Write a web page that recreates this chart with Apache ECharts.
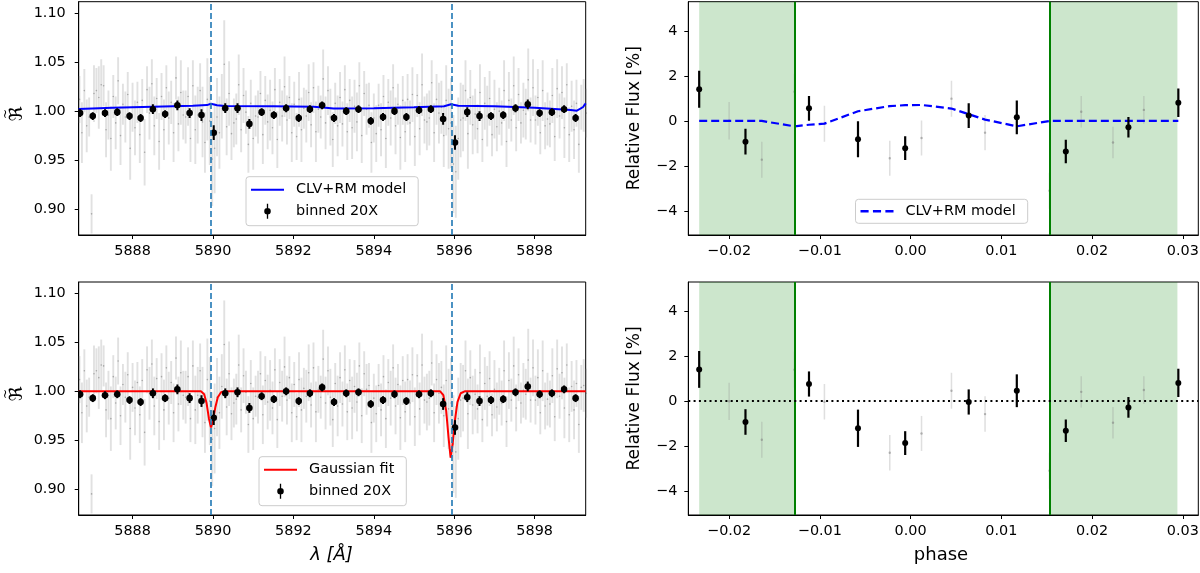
<!DOCTYPE html>
<html>
<head>
<meta charset="utf-8">
<script src="https://cdn.jsdelivr.net/npm/echarts@6/dist/echarts.min.js"></script>
<style>
html, body { margin: 0; padding: 0; background: #fff; }
#chart { width: 1200px; height: 573px; }
</style>
</head>
<body>
<div id="chart"></div>
<script>
// ---- raw spectrum (grey), sampling grid of the spectrograph ----
var rawLambdaStart = 5886.68;
var rawLambdaStep = 0.06;
var rawFlux = [
  1.012, 0.978, 1.021, 0.985, 0.994,  0.895, 1.018, 1.021, 1.014, 1.027,
  1.026, 0.981, 0.996, 0.972, 1.015,  0.988, 1.031, 0.975, 1.007, 0.994,
  1.017, 0.962, 1.004, 0.983, 1.009,  0.976, 1.011, 0.958, 1.022, 0.998,
  1.028, 0.985, 1.013, 0.969, 1.015,  0.981, 1.024, 0.993, 1.009, 0.978,
  1.034, 0.987, 1.019, 0.996, 0.994,  1.015, 0.972, 1.026, 0.981, 0.996,
  1.021, 0.989, 0.968, 1.012, 0.990,  0.951, 0.962, 0.994, 0.978, 1.005,
  1.048, 0.984, 1.018, 0.977, 0.988,  0.992, 1.027, 0.981, 1.016, 0.999,
  0.966, 1.008, 0.972, 0.995, 0.994,  1.018, 0.976, 1.011, 0.989, 1.001,
  0.983, 1.022, 0.971, 1.009, 0.995,  1.025, 0.991, 1.014, 0.978, 1.007,
  0.974, 1.012, 0.981, 1.003, 0.995,  1.019, 0.986, 1.024, 0.979, 1.002,
  0.994, 1.033, 0.988, 1.021, 0.994,  0.971, 1.008, 0.985, 1.014, 0.987,
  1.022, 0.979, 1.011, 0.983, 1.005,  0.989, 1.026, 0.975, 1.018, 1.002,
  1.006, 0.968, 0.993, 0.977, 1.006,  0.981, 1.015, 0.972, 1.009, 0.993,
  1.024, 0.985, 1.007, 0.973, 1.011,  0.979, 1.012, 0.988, 1.017, 0.974,
  1.016, 0.982, 1.027, 0.991, 0.989,  0.993, 1.029, 0.978, 1.012, 0.998,
  1.004, 0.975, 1.011, 0.982, 0.988,  0.946, 0.938, 0.972, 0.991, 0.993,
  1.021, 0.977, 1.014, 0.986, 0.997,  0.982, 1.019, 0.971, 1.008, 0.995,
  1.013, 0.976, 1.002, 0.984, 1.000,  0.988, 1.021, 0.969, 1.011, 0.991,
  1.026, 0.983, 1.017, 0.988, 1.001,  0.997, 1.032, 0.991, 1.024, 0.991,
  1.014, 0.978, 1.021, 0.985, 0.992,  0.987, 1.016, 0.974, 1.023, 0.995,
  1.019, 0.983, 1.027, 0.976, 1.005,  0.981, 1.008, 0.966, 1.004, 1.006,
  0.998
];
var rawErr = [
  0.024, 0.031, 0.022, 0.027, 0.020,  0.020, 0.029, 0.023, 0.032, 0.026,
  0.021, 0.028, 0.025, 0.033, 0.022,  0.027, 0.024, 0.030, 0.021, 0.026,
  0.023, 0.032, 0.025, 0.028, 0.021,  0.029, 0.022, 0.034, 0.024, 0.027,
  0.025, 0.030, 0.021, 0.029, 0.024,  0.031, 0.023, 0.027, 0.022, 0.030,
  0.022, 0.028, 0.033, 0.025, 0.027,  0.030, 0.024, 0.026, 0.035, 0.029,
  0.028, 0.036, 0.031, 0.042, 0.045,  0.048, 0.046, 0.040, 0.037, 0.033,
  0.045, 0.029, 0.033, 0.027, 0.025,  0.026, 0.031, 0.023, 0.028, 0.022,
  0.029, 0.024, 0.032, 0.021, 0.027,  0.023, 0.030, 0.025, 0.028, 0.031,
  0.027, 0.022, 0.029, 0.024, 0.026,  0.031, 0.025, 0.022, 0.030, 0.023,
  0.024, 0.028, 0.033, 0.021, 0.027,  0.029, 0.023, 0.026, 0.031, 0.024,
  0.022, 0.030, 0.027, 0.025, 0.029,  0.028, 0.021, 0.031, 0.026, 0.023,
  0.025, 0.029, 0.022, 0.032, 0.027,  0.030, 0.024, 0.028, 0.023, 0.026,
  0.023, 0.031, 0.025, 0.029, 0.022,  0.027, 0.022, 0.030, 0.024, 0.028,
  0.024, 0.029, 0.021, 0.033, 0.025,  0.031, 0.026, 0.023, 0.028, 0.030,
  0.022, 0.027, 0.032, 0.024, 0.029,  0.028, 0.023, 0.030, 0.026, 0.031,
  0.027, 0.032, 0.036, 0.041, 0.046,  0.050, 0.047, 0.042, 0.038, 0.034,
  0.031, 0.036, 0.028, 0.030, 0.026,  0.025, 0.029, 0.023, 0.027, 0.031,
  0.028, 0.022, 0.030, 0.025, 0.024,  0.023, 0.031, 0.026, 0.029, 0.022,
  0.030, 0.024, 0.027, 0.021, 0.028,  0.026, 0.032, 0.023, 0.029, 0.025,
  0.029, 0.022, 0.031, 0.024, 0.027,  0.024, 0.028, 0.025, 0.030, 0.023,
  0.027, 0.031, 0.022, 0.028, 0.026,  0.030, 0.024, 0.029, 0.023, 0.027,
  0.025
];

// ---- binned 20X ----
var binLambda = [
  5886.695, 5887.010, 5887.314, 5887.619, 5887.924, 5888.200, 5888.505, 5888.810,
  5889.114, 5889.419, 5889.714, 5890.019, 5890.305, 5890.610, 5890.905, 5891.210,
  5891.514, 5891.819, 5892.133, 5892.410, 5892.714, 5893.010, 5893.314, 5893.619,
  5893.924, 5894.229, 5894.514, 5894.810, 5895.124, 5895.419, 5895.724, 5896.019,
  5896.324, 5896.629, 5896.914, 5897.219, 5897.524, 5897.829, 5898.124, 5898.429,
  5898.733, 5899.019
];
var binFluxTop = [
  0.998, 0.995, 0.998, 0.999, 0.995, 0.993, 1.002, 0.997, 1.006, 0.998, 0.996,
  0.978, 1.003, 1.003, 0.987, 0.999, 0.996, 1.003, 0.993, 1.002, 1.006, 0.993,
  1.000, 1.002, 0.990, 0.994, 1.000, 0.994, 1.001, 1.002, 0.992, 0.968, 0.999,
  0.995, 0.995, 0.996, 1.003, 1.007, 0.998, 0.999, 1.002, 0.993
];
var binFluxBottom = [
  0.997, 0.993, 0.996, 0.997, 0.991, 0.989, 0.998, 0.993, 1.002, 0.993, 0.990,
  0.973, 0.998, 0.999, 0.983, 0.995, 0.992, 1.000, 0.990, 0.998, 1.004, 0.989,
  0.998, 0.999, 0.987, 0.991, 0.997, 0.990, 0.997, 0.998, 0.987, 0.963, 0.994,
  0.990, 0.991, 0.992, 0.999, 1.005, 0.997, 0.998, 1.002, 0.993
];
var binErr = [
  0.004, 0.004, 0.004, 0.004, 0.004, 0.004, 0.005, 0.004, 0.005, 0.005, 0.006,
  0.0075, 0.005, 0.005, 0.005, 0.004, 0.004, 0.004, 0.004, 0.004, 0.004, 0.004,
  0.004, 0.004, 0.004, 0.004, 0.004, 0.004, 0.004, 0.004, 0.006, 0.0075, 0.005,
  0.005, 0.004, 0.004, 0.004, 0.005, 0.004, 0.004, 0.004, 0.004
];

// Na D lines
var naLines = [5889.94, 5895.94];

// CLV+RM model (top left)
var clvLambda = [5886.66, 5887.5, 5888.5, 5889.5, 5889.85, 5889.95, 5890.1, 5890.3, 5891.5,
  5892.5, 5892.8, 5893.0, 5894.0, 5895.0, 5895.75, 5895.92, 5896.1, 5897.0, 5898.0,
  5898.9, 5899.05, 5899.2, 5899.27];
var clvFlux = [1.0022, 1.0035, 1.0045, 1.0055, 1.0062, 1.0075, 1.0060, 1.0052, 1.0050,
  1.0045, 1.0035, 1.0027, 1.0030, 1.0040, 1.0050, 1.0070, 1.0055, 1.0050, 1.0035,
  1.0012, 1.0005, 1.0040, 1.0080];

// Gaussian fit (bottom left)
var gaussLambda = [5886.66, 5889.70, 5889.78, 5889.84, 5889.90, 5889.95, 5890.00, 5890.06,
  5890.12, 5890.20, 5890.30, 5895.65, 5895.73, 5895.80, 5895.86, 5895.91, 5895.96,
  5896.02, 5896.08, 5896.16, 5896.26, 5899.27];
var gaussFlux = [1.000, 1.000, 0.997, 0.988, 0.972, 0.963, 0.970, 0.984,
  0.994, 0.999, 1.000, 1.000, 0.996, 0.980, 0.952, 0.932, 0.946,
  0.971, 0.989, 0.998, 1.000, 1.000];

// ---- relative flux vs phase ----
var phaseMain = [-0.0233, -0.0182, -0.0112, -0.0058, -0.0006, 0.0064, 0.0117, 0.0171, 0.0240, 0.0295];
var relFluxTop = [1.41, -0.92, 0.56, -0.81, -1.21, 0.24, 0.16, -1.36, -0.28, 0.81];
var relErrTop = [0.82, 0.57, 0.55, 0.80, 0.53, 0.55, 0.75, 0.52, 0.46, 0.63];
var relFluxBottom = [1.41, -0.93, 0.76, -1.21, -1.87, -0.04, 0.46, -1.32, -0.28, 0.81];
var relErrBottom = [0.82, 0.57, 0.56, 0.83, 0.53, 0.56, 0.73, 0.50, 0.46, 0.63];

var phaseFaint = [-0.0200, -0.0164, -0.0128, -0.0095, -0.0023, 0.0012, 0.0045, 0.0082, 0.0153, 0.0188, 0.0223, 0.0257];
var faintFluxTop = [0.01, -1.72, 1.3, -0.12, -1.66, -0.76, 0.99, -0.52, -3.1, 0.41, -0.96, 0.49];
var faintErrTop = [0.83, 0.80, 0.80, 0.80, 0.78, 0.78, 0.80, 0.78, 0.80, 0.70, 0.70, 0.62];
var faintFluxBottom = [-0.01, -1.72, 1.4, -0.03, -2.30, -1.44, 0.46, -0.58, -3.1, 0.41, -0.96, 0.49];
var faintErrBottom = [0.83, 0.80, 0.80, 0.79, 0.79, 0.78, 0.80, 0.79, 0.80, 0.70, 0.70, 0.62];

var modelPhase = [-0.0233, -0.0200, -0.0182, -0.0164, -0.0128, -0.0112, -0.0095, -0.0058, -0.0023,
  -0.0006, 0.0012, 0.0045, 0.0064, 0.0082, 0.0117, 0.0153, 0.0171, 0.0188, 0.0223, 0.0240,
  0.0257, 0.0295];
var modelFlux = [0, 0, 0, 0, -0.24, -0.17, -0.12, 0.43, 0.66, 0.70, 0.71, 0.55, 0.30, 0.06,
  -0.24, 0, 0, 0, 0, 0, 0, 0];

var outOfTransit = [[-0.0233, -0.0128], [0.0153, 0.0294]];
var contactPhase = [-0.0128, 0.0153];

// ticks
var waveTicks = [5888, 5890, 5892, 5894, 5896, 5898];
var fluxTicks = [0.90, 0.95, 1.00, 1.05, 1.10];
var phaseTicks = [-0.02, -0.01, 0.00, 0.01, 0.02, 0.03];
var relTicks = [-4, -2, 0, 2, 4];

var FONT = "'DejaVu Sans', sans-serif";
var FS = 14.4;

function zip3(xs, ys, es) {
  var out = [];
  for (var i = 0; i < ys.length; i++) out.push([xs[i], ys[i], es[i]]);
  return out;
}
function zip2(xs, ys) {
  var out = [];
  for (var i = 0; i < ys.length; i++) out.push([xs[i], ys[i]]);
  return out;
}
var rawData = [];
for (var i = 0; i < rawFlux.length; i++) {
  rawData.push([rawLambdaStart + i * rawLambdaStep, rawFlux[i], rawErr[i]]);
}

// errorbar renderer: vertical bar + dot
function errorBar(barColor, barWidth, dotColor, r) {
  return function (params, api) {
    var x = api.value(0), y = api.value(1), e = api.value(2);
    var p = api.coord([x, y]);
    var hi = api.coord([x, y + e]);
    var lo = api.coord([x, y - e]);
    return {
      type: 'group',
      children: [
        { type: 'line', shape: { x1: p[0], y1: hi[1], x2: p[0], y2: lo[1] },
          style: { stroke: barColor, lineWidth: barWidth } },
        { type: 'circle', shape: { cx: p[0], cy: p[1], r: r },
          style: { fill: dotColor } }
      ]
    };
  };
}

function minusFmt(d) {
  return function (v) {
    var s = Math.abs(v).toFixed(d);
    return v < -1e-9 ? '\u2212' + s : s;
  };
}

function xAxisDef(idx, min, max, ticks, fmt) {
  return {
    type: 'value', gridIndex: idx, min: min, max: max,
    axisLine: { show: true, onZero: false, lineStyle: { color: '#000', width: 1 } },
    axisTick: { show: true, customValues: ticks, length: 4, lineStyle: { color: '#000' } },
    axisLabel: { customValues: ticks, formatter: fmt, color: '#000', fontFamily: FONT, fontSize: FS, margin: 9 },
    splitLine: { show: false }
  };
}
function yAxisDef(idx, min, max, ticks, fmt, margin) {
  return {
    type: 'value', gridIndex: idx, min: min, max: max,
    axisLine: { show: true, onZero: false, lineStyle: { color: '#000', width: 1 } },
    axisTick: { show: true, customValues: ticks, length: 4, lineStyle: { color: '#000' } },
    axisLabel: { customValues: ticks, formatter: fmt, color: '#000', fontFamily: FONT, fontSize: FS, margin: margin },
    splitLine: { show: false }
  };
}

// legend icons
var errIcon = 'path://M4.3,0 L5.7,0 L5.7,16 L4.3,16 Z M8.5,8 A3.5,3.5 0 1 1 1.5,8 A3.5,3.5 0 1 1 8.5,8 Z';
var solidIcon = 'path://M0,0 H33 V2 H0 Z';
var dashIcon = 'path://M0,0 H7.5 V2.2 H0 Z M11.5,0 H19 V2.2 H11.5 Z M23,0 H30.5 V2.2 H23 Z';

var legendBase = {
  orient: 'vertical', itemWidth: 33, itemHeight: 15, itemGap: 7,
  backgroundColor: 'rgba(255,255,255,0.8)', borderColor: '#cccccc', borderWidth: 1, borderRadius: 3,
  textStyle: { fontFamily: FONT, fontSize: FS, color: '#000', padding: [0, 0, 0, 7] },
  selectedMode: false
};
function legendAt(left, top, pad, data) {
  var l = Object.assign({}, legendBase);
  l.left = left; l.top = top; l.padding = pad; l.data = data;
  l.formatter = function (name) { return name.replace(' (phase)', ''); };
  return l;
}

var grids = [
  { left: 78.7, top: 1.7, width: 507, height: 233.3 },
  { left: 78.7, top: 282, width: 507, height: 233 },
  { left: 688.3, top: 1.7, width: 510, height: 233.3 },
  { left: 688.3, top: 282, width: 510, height: 233 }
];
grids.forEach(function (g) {
  g.show = true; g.borderColor = '#000'; g.borderWidth = 1; g.backgroundColor = 'transparent';
  g.outerBoundsMode = 'none'; g.containLabel = false;
});

var waveFmt = function (v) { return v.toFixed(0); };
var fluxFmt = function (v) { return v.toFixed(2); };

var greenArea = {
  silent: true,
  itemStyle: { color: 'rgba(0,128,0,0.2)' },
  data: outOfTransit.map(function (r) { return [{ xAxis: r[0] }, { xAxis: r[1] }]; })
};
var greenLines = {
  silent: true, symbol: 'none', label: { show: false }, precision: 6,
  lineStyle: { color: '#008000', width: 2, type: 'solid' },
  data: contactPhase.map(function (p) { return { xAxis: p }; })
};
var naMarks = {
  silent: true, symbol: 'none', label: { show: false }, precision: 4,
  lineStyle: { color: '#1f77b4', width: 1.6, type: [6, 3] },
  data: naLines.map(function (w) { return { xAxis: w }; })
};

var rawBar = errorBar('rgba(130,130,130,0.24)', 1.9, 'rgba(80,80,80,0.4)', 0.8);

var option = {
  animation: false,
  backgroundColor: '#fff',
  grid: grids,
  xAxis: [
    xAxisDef(0, 5886.66, 5899.27, waveTicks, waveFmt),
    xAxisDef(1, 5886.66, 5899.27, waveTicks, waveFmt),
    xAxisDef(2, -0.0245, 0.0317, phaseTicks, minusFmt(2)),
    xAxisDef(3, -0.0245, 0.0317, phaseTicks, minusFmt(2))
  ],
  yAxis: [
    yAxisDef(0, 0.8734, 1.1119, fluxTicks, fluxFmt, 13),
    yAxisDef(1, 0.8734, 1.1119, fluxTicks, fluxFmt, 13),
    yAxisDef(2, -5.07, 5.30, relTicks, minusFmt(0), 11),
    yAxisDef(3, -5.07, 5.30, relTicks, minusFmt(0), 11)
  ],
  legend: [
    legendAt(246, 176.7, [6, 12, 7, 5], [{ name: 'CLV+RM model', icon: solidIcon },
      { name: 'binned 20X', icon: errIcon }]),
    legendAt(259, 456.7, [6, 12, 7, 5], [{ name: 'Gaussian fit', icon: solidIcon },
      { name: 'binned 20X', icon: errIcon }]),
    legendAt(855.5, 199.3, [5, 12, 5, 5], [{ name: 'CLV+RM model (phase)', icon: dashIcon }])
  ],
  series: [
    // top left
    { type: 'custom', name: 'raw top', xAxisIndex: 0, yAxisIndex: 0, z: 1, clip: true,
      renderItem: rawBar, data: rawData },
    { type: 'line', name: 'CLV+RM model', xAxisIndex: 0, yAxisIndex: 0, z: 3, symbol: 'none',
      lineStyle: { color: '#0000ff', width: 2 }, itemStyle: { color: '#0000ff' },
      data: zip2(clvLambda, clvFlux) },
    { type: 'custom', name: 'binned 20X', xAxisIndex: 0, yAxisIndex: 0, z: 4, clip: true,
      itemStyle: { color: '#000' },
      renderItem: errorBar('#000', 2, '#000', 3.3),
      data: zip3(binLambda, binFluxTop, binErr), markLine: naMarks },
    // bottom left
    { type: 'custom', name: 'raw bottom', xAxisIndex: 1, yAxisIndex: 1, z: 1, clip: true,
      renderItem: rawBar, data: rawData },
    { type: 'line', name: 'Gaussian fit', xAxisIndex: 1, yAxisIndex: 1, z: 3, symbol: 'none',
      lineStyle: { color: '#ff0000', width: 2 }, itemStyle: { color: '#ff0000' },
      data: zip2(gaussLambda, gaussFlux) },
    { type: 'custom', name: 'binned 20X', xAxisIndex: 1, yAxisIndex: 1, z: 4, clip: true,
      itemStyle: { color: '#000' },
      renderItem: errorBar('#000', 2, '#000', 3.3),
      data: zip3(binLambda, binFluxBottom, binErr), markLine: naMarks },
    // top right
    { type: 'custom', name: 'faint top', xAxisIndex: 2, yAxisIndex: 2, z: 1, clip: true,
      renderItem: errorBar('rgba(150,150,150,0.3)', 1.5, 'rgba(120,120,120,0.5)', 1.2),
      data: zip3(phaseFaint, faintFluxTop, faintErrTop), markArea: greenArea },
    { type: 'line', name: 'CLV+RM model (phase)', xAxisIndex: 2, yAxisIndex: 2, z: 3, symbol: 'none',
      lineStyle: { color: '#0000ff', width: 2.2, type: [8, 4] }, itemStyle: { color: '#0000ff' },
      data: zip2(modelPhase, modelFlux), markLine: greenLines },
    { type: 'custom', name: 'points top', xAxisIndex: 2, yAxisIndex: 2, z: 4, clip: true,
      renderItem: errorBar('#000', 2.2, '#000', 3),
      data: zip3(phaseMain, relFluxTop, relErrTop) },
    // bottom right
    { type: 'custom', name: 'faint bottom', xAxisIndex: 3, yAxisIndex: 3, z: 1, clip: true,
      renderItem: errorBar('rgba(150,150,150,0.3)', 1.5, 'rgba(120,120,120,0.5)', 1.2),
      data: zip3(phaseFaint, faintFluxBottom, faintErrBottom), markArea: greenArea,
      markLine: greenLines },
    { type: 'custom', name: 'points bottom', xAxisIndex: 3, yAxisIndex: 3, z: 4, clip: true,
      renderItem: errorBar('#000', 2.2, '#000', 3),
      data: zip3(phaseMain, relFluxBottom, relErrBottom),
      markLine: {
        silent: true, symbol: 'none', label: { show: false },
        lineStyle: { color: '#000', width: 2, type: [2, 3.3] },
        data: [{ yAxis: 0 }]
      } }
  ],
  graphic: [
    { type: 'text', x: 17, y: 114, rotation: Math.PI / 2,
      style: { text: '\u211C', font: "18px 'DejaVu Sans'", fill: '#000', align: 'center', verticalAlign: 'middle' } },
    { type: 'text', x: 6, y: 114, rotation: Math.PI / 2,
      style: { text: '~', font: "12px 'DejaVu Sans'", fill: '#000', align: 'center', verticalAlign: 'middle' } },
    { type: 'text', x: 17, y: 394, rotation: Math.PI / 2,
      style: { text: '\u211C', font: "18px 'DejaVu Sans'", fill: '#000', align: 'center', verticalAlign: 'middle' } },
    { type: 'text', x: 6, y: 394, rotation: Math.PI / 2,
      style: { text: '~', font: "12px 'DejaVu Sans'", fill: '#000', align: 'center', verticalAlign: 'middle' } },
    { type: 'text', x: 635, y: 118.3, rotation: Math.PI / 2,
      style: { text: 'Relative Flux [%]', font: "17px 'DejaVu Sans'", fill: '#000', align: 'center', verticalAlign: 'middle' } },
    { type: 'text', x: 635, y: 398.5, rotation: Math.PI / 2,
      style: { text: 'Relative Flux [%]', font: "17px 'DejaVu Sans'", fill: '#000', align: 'center', verticalAlign: 'middle' } },
    { type: 'text', x: 331.5, y: 555,
      style: { text: '\u03BB [\u00C5]', font: "italic 18px 'DejaVu Sans'", fill: '#000', align: 'center', verticalAlign: 'middle' } },
    { type: 'text', x: 941, y: 555,
      style: { text: 'phase', font: "18px 'DejaVu Sans'", fill: '#000', align: 'center', verticalAlign: 'middle' } }
  ]
};

var chart = echarts.init(document.getElementById('chart'));
chart.setOption(option);
</script>
</body>
</html>
